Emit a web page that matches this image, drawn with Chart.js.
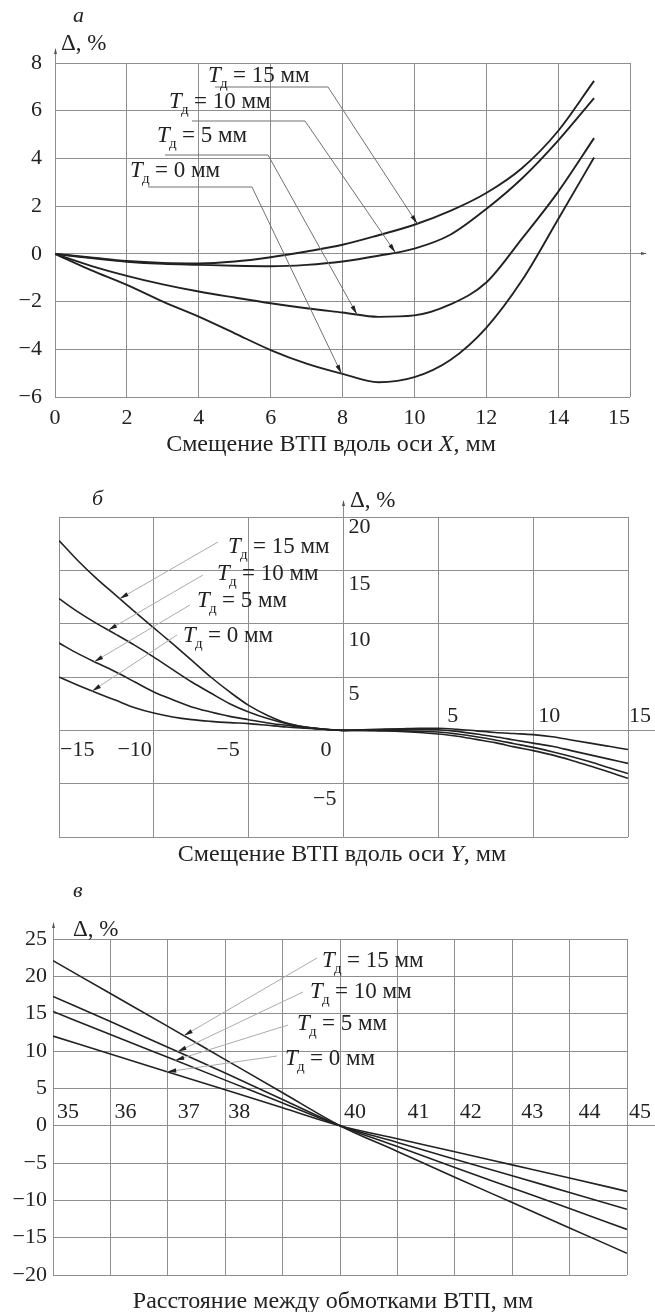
<!DOCTYPE html>
<html>
<head>
<meta charset="utf-8">
<script src="https://cdn.jsdelivr.net/npm/chart.js@4.4.1/dist/chart.umd.min.js"></script>
<style>
  body { margin: 0; background: #fff; }
  canvas { position: absolute; left: 0; }
</style>
</head>
<body>
<canvas id="chartX" width="655" height="460" style="top:0"></canvas>
<canvas id="chartY" width="655" height="410" style="top:460px"></canvas>
<canvas id="chartGap" width="655" height="442" style="top:870px"></canvas>
<script>
// а: Δ, % при смещении ВТП вдоль оси X (Tд = 15, 10, 5, 0 мм)
const shiftX = [0, 1, 2, 3, 4, 5, 6, 7, 8, 9, 10, 11, 12, 13, 14, 15];
const dX15 = [0, -0.15, -0.3, -0.38, -0.4, -0.32, -0.14, 0.1, 0.38, 0.78, 1.22, 1.8, 2.55, 3.6, 5.15, 7.25];
const dX10 = [0, -0.18, -0.33, -0.42, -0.46, -0.5, -0.52, -0.46, -0.32, -0.08, 0.22, 0.8, 1.88, 3.17, 4.75, 6.53];
const dX5 = [0, -0.5, -0.92, -1.28, -1.58, -1.83, -2.07, -2.28, -2.46, -2.64, -2.58, -2.12, -1.2, 0.65, 2.6, 4.85];
const dX0 = [0, -0.68, -1.3, -2.0, -2.63, -3.33, -4.03, -4.6, -5.03, -5.38, -5.17, -4.45, -3.1, -1.1, 1.45, 4.04];
const ticksShiftX = ['0', '2', '4', '6', '8', '10', '12', '14', '15'];

// б: смещение вдоль оси Y
const shiftY = [-15, -14, -13, -12, -11, -10, -9, -8, -7, -6, -5, -4, -3, -2, -1, 0,
                1, 2, 3, 4, 5, 6, 7, 8, 9, 10, 11, 12, 13, 14, 15];
const dY15 = [17.8, 15.9, 14.2, 12.65, 11.1, 9.6, 8.1, 6.56, 5.0, 3.6, 2.34, 1.4, 0.69, 0.3, 0.1, 0,
              0.05, 0.1, 0.15, 0.2, 0.2, 0.1, -0.05, -0.2, -0.3, -0.4, -0.6, -0.9, -1.2, -1.5, -1.8];
const dY10 = [12.35, 11.1, 10.0, 9.0, 7.97, 6.87, 5.69, 4.53, 3.5, 2.5, 1.72, 1.1, 0.63, 0.3, 0.1, 0,
              0.05, 0.08, 0.1, 0.1, 0.05, -0.1, -0.35, -0.6, -0.9, -1.2, -1.5, -1.9, -2.3, -2.7, -3.1];
const dY5 = [8.19, 7.19, 6.31, 5.47, 4.53, 3.6, 2.87, 2.19, 1.72, 1.31, 1.0, 0.69, 0.47, 0.25, 0.1, 0,
             0, 0, -0.05, -0.1, -0.15, -0.35, -0.6, -0.9, -1.25, -1.6, -2.0, -2.45, -2.95, -3.5, -4.05];
const dY0 = [5.0, 4.22, 3.5, 2.81, 2.12, 1.62, 1.25, 1.0, 0.84, 0.72, 0.63, 0.47, 0.31, 0.2, 0.1, 0,
             0, -0.05, -0.1, -0.2, -0.35, -0.55, -0.85, -1.15, -1.55, -1.9, -2.3, -2.8, -3.35, -3.9, -4.5];
const ticksShiftY = ['−15', '−10', '−5', '0', '5', '10', '15'];
const ticksDeltaY = ['', '−5', '', '5', '10', '15', '20'];

// в: расстояние между обмотками ВТП
const gapMm = [35, 36, 37, 38, 39, 40, 41, 42, 43, 44, 45];
const dG15 = [22.1, 17.7, 13.3, 8.85, 4.4, 0, -3.45, -6.9, -10.3, -13.7, -17.1];
const dG10 = [17.3, 13.95, 10.5, 7.05, 3.5, 0, -2.8, -5.6, -8.35, -11.1, -13.9];
const dG5 = [15.3, 12.2, 9.15, 6.1, 3.05, 0, -2.25, -4.5, -6.7, -8.95, -11.2];
const dG0 = [12.0, 9.6, 7.2, 4.8, 2.4, 0, -1.76, -3.5, -5.25, -7.0, -8.8];
const ticksGap = ['35', '36', '37', '38', '', '40', '41', '42', '43', '44', '45'];

const FONT = '"Liberation Serif", "Times New Roman", serif';
const INK = '#222';
const GRID = '#8e8e8e';
const TICK = 22;

const minus = v => (v < 0 ? '−' + Math.abs(v) : String(v));
const crisp = p => Math.round(p - 0.5) + 0.5;

function lineSets(xs, rows, width) {
    return rows.map(ys => ({
        data: xs.map((x, i) => ({ x, y: ys[i] })),
        borderColor: INK,
        borderWidth: width,
        pointRadius: 0,
        cubicInterpolationMode: 'monotone',
        fill: false
    }));
}

function valueAt(xs, ys, x) {
    for (let i = 1; i < xs.length; i++) {
        if (x <= xs[i]) {
            const t = (x - xs[i - 1]) / (xs[i] - xs[i - 1]);
            return ys[i - 1] + t * (ys[i] - ys[i - 1]);
        }
    }
    return ys[ys.length - 1];
}

function put(ctx, str, x, y, size, italic, align) {
    ctx.font = (italic ? 'italic ' : '') + size + 'px ' + FONT;
    ctx.textAlign = align || 'left';
    ctx.textBaseline = 'alphabetic';
    ctx.fillStyle = INK;
    ctx.fillText(str, x, y);
}

// "Tд = N мм"
function tLabel(ctx, x, y, mm) {
    put(ctx, 'T', x, y, 23, true);
    put(ctx, 'д', x + 12, y + 6, 15, false);
    put(ctx, '= ' + mm + ' мм', x + 25, y, 23, false);
}

function axisTitle(ctx, parts, cx, y, size) {
    let w = 0;
    parts.forEach(([s, it]) => {
        ctx.font = (it ? 'italic ' : '') + size + 'px ' + FONT;
        w += ctx.measureText(s).width;
    });
    let x = cx - w / 2;
    parts.forEach(([s, it]) => {
        put(ctx, s, x, y, size, it);
        x += ctx.measureText(s).width;
    });
}

function arrowHead(ctx, x0, y0, x1, y1, len, half) {
    const a = Math.atan2(y1 - y0, x1 - x0);
    const c = Math.cos(a), s = Math.sin(a);
    ctx.beginPath();
    ctx.moveTo(x1, y1);
    ctx.lineTo(x1 - len * c + half * s, y1 - len * s - half * c);
    ctx.lineTo(x1 - len * c - half * s, y1 - len * s + half * c);
    ctx.closePath();
    ctx.fill();
}

function leader(ctx, pts, color) {
    ctx.strokeStyle = color;
    ctx.lineWidth = 1;
    ctx.beginPath();
    pts.forEach((p, i) => (i ? ctx.lineTo(p[0], p[1]) : ctx.moveTo(p[0], p[1])));
    ctx.stroke();
    const a = pts[pts.length - 2], b = pts[pts.length - 1];
    ctx.fillStyle = INK;
    arrowHead(ctx, a[0], a[1], b[0], b[1], 9, 2.2);
}

function line(ctx, x0, y0, x1, y1) {
    ctx.strokeStyle = GRID;
    ctx.lineWidth = 1;
    ctx.beginPath();
    ctx.moveTo(x0, y0);
    ctx.lineTo(x1, y1);
    ctx.stroke();
}

function tipOf(sx, sy, xs, ys, at) {
    return [sx.getPixelForValue(at), sy.getPixelForValue(valueAt(xs, ys, at))];
}

function baseOptions(padding, x, y) {
    const grid = { color: GRID, lineWidth: 1, drawTicks: false };
    return {
        responsive: false,
        animation: false,
        layout: { padding },
        plugins: { legend: { display: false }, tooltip: { enabled: false } },
        scales: {
            x: Object.assign({ type: 'linear', grid, border: { display: false } }, x),
            y: Object.assign({ type: 'linear', grid, border: { display: false } }, y)
        }
    };
}

const tickFont = { family: FONT, size: TICK };

// ---------- а ----------
new Chart(document.getElementById('chartX'), {
    type: 'line',
    data: { datasets: lineSets(shiftX, [dX15, dX10, dX5, dX0], 1.9) },
    options: baseOptions(
        { top: 63, right: 25, bottom: 0, left: 0 },
        { min: 0, max: 16, ticks: { stepSize: 2, display: false }, afterFit: s => { s.height = 63; } },
        { min: -6, max: 8, ticks: { stepSize: 2, padding: 13, color: INK, font: tickFont, callback: minus, autoSkip: false },
          afterFit: s => { s.width = 55; } }
    ),
    plugins: [{
        id: 'panelA',
        afterDraw(chart) {
            const ctx = chart.ctx, sx = chart.scales.x, sy = chart.scales.y, ar = chart.chartArea;
            ctx.save();
            sx.ticks.forEach((t, i) => {
                const last = i === sx.ticks.length - 1;
                put(ctx, ticksShiftX[i], sx.getPixelForValue(t.value), 424, TICK, false, last ? 'right' : 'center');
            });
            // axis arrows
            const y0 = crisp(sy.getPixelForValue(0));
            line(ctx, ar.right, y0, ar.right + 16, y0);
            ctx.fillStyle = '#555';
            arrowHead(ctx, ar.right, y0, ar.right + 17, y0, 6, 1.5);
            const xl = crisp(ar.left);
            line(ctx, xl, ar.top, xl, ar.top - 14);
            arrowHead(ctx, xl, ar.top, xl, ar.top - 15, 6, 1.5);

            put(ctx, 'а', 73, 22, 22, true);
            put(ctx, 'Δ, %', 61, 50, 23, false);

            const notes = [
                { mm: '15', text: [208, 82], path: [[215, 87], [328, 87]], at: 10.08, ys: dX15 },
                { mm: '10', text: [169, 108], path: [[192, 121], [305, 121]], at: 9.47, ys: dX10 },
                { mm: '5', text: [157, 142], path: [[165, 155], [268, 155]], at: 8.4, ys: dX5 },
                { mm: '0', text: [130, 177], path: [[148, 187], [252, 187]], at: 7.97, ys: dX0 }
            ];
            notes.forEach(n => {
                leader(ctx, n.path.concat([tipOf(sx, sy, shiftX, n.ys, n.at)]), '#707070');
                tLabel(ctx, n.text[0], n.text[1], n.mm);
            });
            axisTitle(ctx, [['Смещение ВТП вдоль оси ', false], ['X', true], [', мм', false]], 331, 451, 24);
            ctx.restore();
        }
    }]
});

// ---------- б ----------
new Chart(document.getElementById('chartY'), {
    type: 'line',
    data: { datasets: lineSets(shiftY, [dY15, dY10, dY5, dY0], 1.6) },
    options: baseOptions(
        { top: 57, right: 27, bottom: 33, left: 59 },
        { min: -15, max: 15, ticks: { stepSize: 5, display: false }, afterFit: s => { s.height = 0; } },
        { min: -10, max: 20, ticks: { stepSize: 5, display: false }, afterFit: s => { s.width = 0; } }
    ),
    plugins: [{
        id: 'panelB',
        afterDraw(chart) {
            const ctx = chart.ctx, sx = chart.scales.x, sy = chart.scales.y, ar = chart.chartArea;
            ctx.save();
            const x0 = sx.getPixelForValue(0);
            const y0 = sy.getPixelForValue(0);
            // [align, dx, baseline]
            const xPlace = [['left', 1, 296], ['right', -2, 296], ['right', -9, 296], ['right', -12, 296],
                            ['left', 9, 262], ['left', 5, 262], ['left', 1, 262]];
            sx.ticks.forEach((t, i) => {
                const p = xPlace[i];
                put(ctx, ticksShiftY[i], sx.getPixelForValue(t.value) + p[1], p[2], TICK, false, p[0]);
            });
            // [align, dx from axis, dy below grid line]
            const yPlace = [null, ['right', -7, 21], null, ['left', 5, 23], ['left', 5, 22], ['left', 5, 20], ['left', 5, 16]];
            sy.ticks.forEach((t, i) => {
                const p = yPlace[i];
                if (!p) return;
                put(ctx, ticksDeltaY[i], x0 + p[1], sy.getPixelForValue(t.value) + p[2], TICK, false, p[0]);
            });
            const yl = crisp(y0), xl = crisp(x0);
            line(ctx, ar.right, yl, 655, yl);
            line(ctx, xl, ar.top, xl, ar.top - 16);
            ctx.fillStyle = '#555';
            arrowHead(ctx, xl, ar.top, xl, ar.top - 17, 6, 1.5);

            put(ctx, 'б', 92, 45, 22, true);
            put(ctx, 'Δ, %', 350, 47, 23, false);

            const notes = [
                { mm: '15', text: [228, 93], from: [218, 82], at: -11.8, ys: dY15 },
                { mm: '10', text: [217, 120], from: [203, 115], at: -12.4, ys: dY10 },
                { mm: '5', text: [197, 147], from: [190, 145], at: -13.14, ys: dY5 },
                { mm: '0', text: [183, 182], from: [177, 175], at: -13.25, ys: dY0 }
            ];
            notes.forEach(n => {
                leader(ctx, [n.from, tipOf(sx, sy, shiftY, n.ys, n.at)], '#ababab');
                tLabel(ctx, n.text[0], n.text[1], n.mm);
            });
            axisTitle(ctx, [['Смещение ВТП вдоль оси ', false], ['Y', true], [', мм', false]], 342, 401, 24);
            ctx.restore();
        }
    }]
});

// ---------- в ----------
new Chart(document.getElementById('chartGap'), {
    type: 'line',
    data: { datasets: lineSets(gapMm, [dG15, dG10, dG5, dG0], 1.6) },
    options: baseOptions(
        { top: 69, right: 28, bottom: 37, left: 0 },
        { min: 35, max: 45, ticks: { stepSize: 1, display: false }, afterFit: s => { s.height = 0; } },
        { min: -20, max: 25, ticks: { stepSize: 5, padding: 6, color: INK, font: tickFont, callback: minus, autoSkip: false },
          afterFit: s => { s.width = 53; } }
    ),
    plugins: [{
        id: 'panelC',
        afterDraw(chart) {
            const ctx = chart.ctx, sx = chart.scales.x, sy = chart.scales.y, ar = chart.chartArea;
            ctx.save();
            const y0 = sy.getPixelForValue(0);
            const nudge = [4, 4, 10, 3, 0, 4, 10, 5, 9, 9, 2];
            sx.ticks.forEach((t, i) => {
                put(ctx, ticksGap[i], sx.getPixelForValue(t.value) + nudge[i], y0 - 7.5, TICK, false, 'left');
            });
            const yl = crisp(y0), xl = crisp(ar.left);
            line(ctx, ar.right, yl, 655, yl);
            line(ctx, xl, ar.top, xl, ar.top - 16);
            ctx.fillStyle = '#555';
            arrowHead(ctx, xl, ar.top, xl, ar.top - 17, 6, 1.5);

            put(ctx, 'в', 73, 27, 22, true);
            put(ctx, 'Δ, %', 73, 66, 23, false);

            const notes = [
                { mm: '15', text: [322, 97], from: [317, 88], at: 37.28, ys: dG15 },
                { mm: '10', text: [310, 128], from: [303, 122], at: 37.17, ys: dG10 },
                { mm: '5', text: [297, 160], from: [288, 155], at: 37.13, ys: dG5 },
                { mm: '0', text: [285, 195], from: [277, 186], at: 36.99, ys: dG0 }
            ];
            notes.forEach(n => {
                leader(ctx, [n.from, tipOf(sx, sy, gapMm, n.ys, n.at)], '#ababab');
                tLabel(ctx, n.text[0], n.text[1], n.mm);
            });
            axisTitle(ctx, [['Расстояние между обмотками ВТП, мм', false]], 333, 438, 24);
            ctx.restore();
        }
    }]
});
</script>
</body>
</html>
